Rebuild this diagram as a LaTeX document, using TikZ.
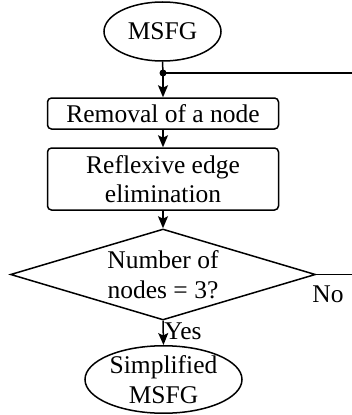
\documentclass[tikz,border=0pt]{standalone}
\usepackage{fontspec}
\setmainfont{Liberation Serif}
\usetikzlibrary{shapes.geometric,arrows.meta}
\begin{document}
\begin{tikzpicture}[x=1pt,y=1pt,
  font=\fontsize{25.5}{29.5}\selectfont,
  line width=1.5pt,
  >={Stealth[length=12pt,width=10pt,inset=2.5pt]},
  term/.style={ellipse,draw,inner sep=0pt,align=center},
  proc/.style={rectangle,rounded corners=4pt,draw,inner sep=0pt,align=center,minimum width=231pt},
  dec/.style={diamond,draw,inner sep=0pt,aspect=3.35,align=center,minimum width=305pt,minimum height=91pt},
  lbl/.style={inner sep=0pt}]
\useasboundingbox (0,0) rectangle (352,-415);
\node[term,minimum width=117pt,minimum height=59pt] (msfg) at (162.5,-31.5) {MSFG};
\coordinate (dot) at (163,-73);
\coordinate (fbend) at (352,-73);
\node[proc,minimum height=31pt] (rem) at (163,-113.5) {Removal of a node};
\node[proc,minimum height=62pt] (refl) at (163,-179) {Reflexive edge\\elimination};
\node[dec] (cond) at (163,-274.5) {Number of\\nodes = 3?};
\coordinate (noend) at (352,-274.5);
\node[term,minimum width=157pt,minimum height=59pt] (simp) at (163.5,-379.5) {Simplified\\MSFG};
\node[lbl] (no) at (328,-294) {No};
\node[lbl] (yes) at (183,-331) {Yes};
\draw (msfg.south) -- (dot);
\draw[->] (dot) -- (rem.north);
\fill (dot) circle (3.5pt);
\draw (dot) -- (fbend);
\draw[->] (rem.south) -- (refl.north);
\draw[->] (refl.south) -- (cond.north);
\draw (cond.east) -- (noend);
\draw[->] (cond.south) -- (simp.north);
\end{tikzpicture}
\end{document}
